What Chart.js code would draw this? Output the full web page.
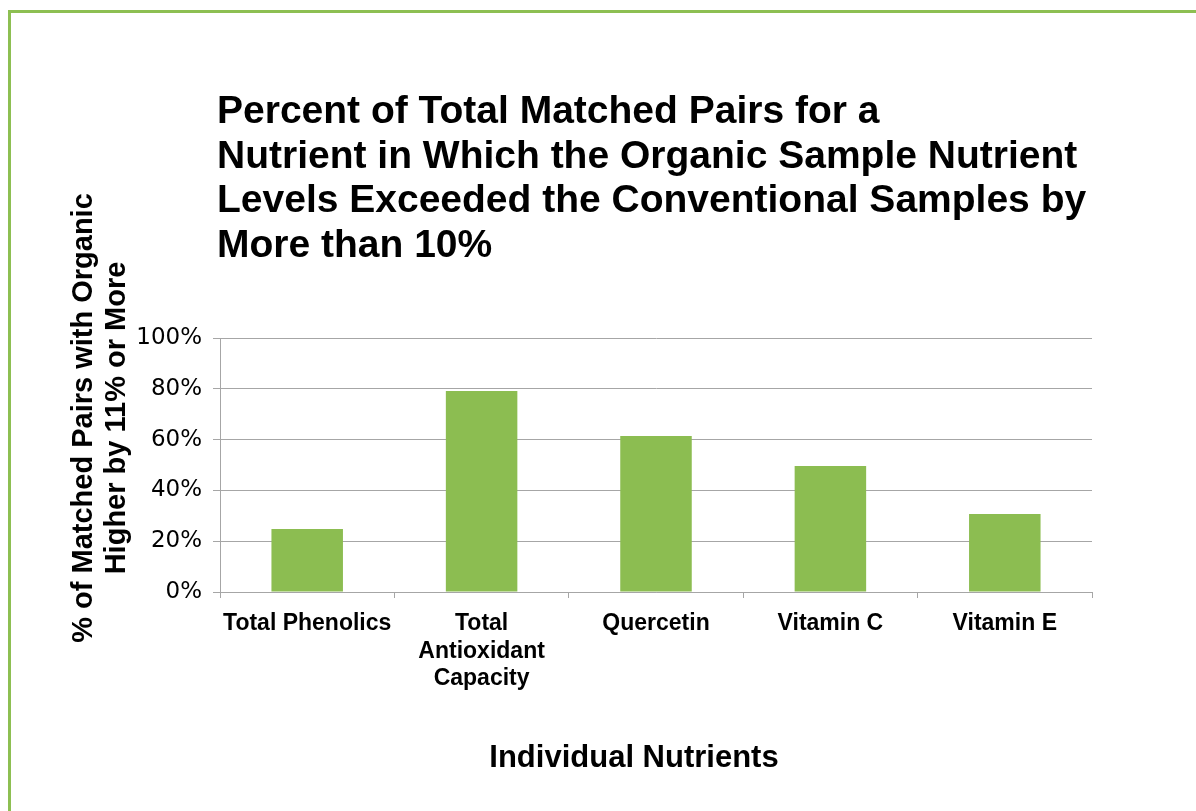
<!DOCTYPE html>
<html>
<head>
<meta charset="utf-8">
<script src="https://cdn.jsdelivr.net/npm/chart.js"></script>
<style>
  html, body { margin: 0; padding: 0; background: #fff; }
  body { width: 1196px; height: 811px; position: relative; overflow: hidden; }
  #frame { position: absolute; left: 8px; top: 10px; width: 1300px; height: 900px; border: 3px solid #8dbf52; box-sizing: border-box; }
  #chart { position: absolute; left: 0; top: 0; }
  .txt { position: absolute; font-family: "Liberation Sans", Arial, sans-serif; font-weight: bold; color: #000; white-space: nowrap; }
  #title { left: 217px; top: 88px; font-size: 39px; line-height: 44.7px; }
  #ytitle { left: -161px; top: 385px; width: 520px; height: 66px; font-size: 29px; line-height: 33px; text-align: center; transform: rotate(-90deg); transform-origin: 50% 50%; }
  #xtitle { left: 334px; top: 739px; width: 600px; font-size: 31px; line-height: 36px; text-align: center; }
</style>
</head>
<body>
<div id="frame"></div>
<canvas id="chart" width="1196" height="811"></canvas>
<div id="title" class="txt">Percent of Total Matched Pairs for a<br>Nutrient in Which the Organic Sample Nutrient<br>Levels Exceeded the Conventional Samples by<br>More than 10%</div>
<div id="ytitle" class="txt">% of Matched Pairs with Organic<br>Higher by 11% or More</div>
<div id="xtitle" class="txt">Individual Nutrients</div>
<script>
// datos del gráfico
const categories = ['Total Phenolics', ['Total', 'Antioxidant', 'Capacity'], 'Quercetin', 'Vitamin C', 'Vitamin E'];
const percentHigher = [24.8, 79.1, 61.4, 49.6, 30.7];
const yTicks = [0, 20, 40, 60, 80, 100];

const gris = '#a6a6a6';
const verde = '#8cbd51';

new Chart(document.getElementById('chart'), {
  type: 'bar',
  data: {
    labels: categories,
    datasets: [{
      data: percentHigher,
      backgroundColor: verde,
      borderWidth: 0,
      barPercentage: 0.41,
      categoryPercentage: 1
    }]
  },
  options: {
    responsive: false,
    devicePixelRatio: 1,
    animation: false,
    layout: { padding: { left: 60, top: 338, right: 104, bottom: 69 } },
    plugins: { legend: { display: false }, tooltip: { enabled: false }, title: { display: false } },
    scales: {
      x: {
        afterFit: s => { s.height = 150; },
        grid: { display: true, offset: true, drawOnChartArea: false, drawTicks: true, tickLength: 6, color: gris },
        border: { display: true, color: gris },
        ticks: {
          color: '#000',
          padding: 12,
          maxRotation: 0,
          autoSkip: false,
          font: { family: '"Liberation Sans", Arial, sans-serif', weight: 'bold', size: 23, lineHeight: 1.2 }
        }
      },
      y: {
        min: 0,
        max: 100,
        afterFit: s => { s.width = 160; },
        afterBuildTicks: s => { s.ticks = yTicks.map(v => ({ value: v })); },
        grid: { color: gris, tickLength: 7, drawTicks: true },
        border: { display: true, color: gris },
        ticks: {
          color: '#000',
          padding: 11,
          callback: v => v + '%',
          font: { family: '"DejaVu Sans", sans-serif', size: 23 }
        }
      }
    }
  }
});
</script>
</body>
</html>
